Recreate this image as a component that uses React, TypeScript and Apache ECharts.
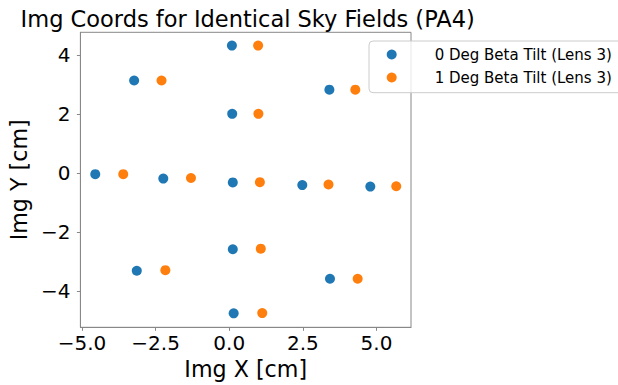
import React, { useEffect, useRef } from "react";
import * as echarts from "echarts";

const seriesNames = ["0 Deg Beta Tilt (Lens 3)", "1 Deg Beta Tilt (Lens 3)"];
const blueX = [0.09, -3.23, 3.40, 0.10, -4.55, -2.24, 0.12, 2.48, 4.79, 0.12, -3.14, 3.42, 0.15];
const blueY = [4.31, 3.13, 2.82, 2.00, -0.04, -0.19, -0.32, -0.41, -0.46, -2.58, -3.31, -3.58, -4.75];
const orangeX = [0.98, -2.30, 4.28, 0.99, -3.60, -1.30, 1.04, 3.37, 5.67, 1.07, -2.17, 4.36, 1.12];
const orangeY = [4.31, 3.13, 2.82, 2.00, -0.04, -0.17, -0.31, -0.39, -0.45, -2.56, -3.29, -3.58, -4.74];
const xTicks = [-5, -2.5, 0, 2.5, 5];
const yTicks = [-4, -2, 0, 2, 4];

const FONT = "DejaVu Sans";
const fmt = (v: number, d: number) => (v < 0 ? "\u2212" : "") + Math.abs(v).toFixed(d);

export default function App() {
  const ref = useRef<HTMLDivElement>(null);
  useEffect(() => {
    const chart = echarts.init(ref.current!, null, { renderer: "svg" });
    const pair = (xs: number[], ys: number[]) => xs.map((x, i) => [x, ys[i]]);
    const axisCommon = {
      type: "value",
      splitLine: { show: false },
      axisLine: { show: true, onZero: false, lineStyle: { color: "#888", width: 1 } },
      nameTextStyle: { fontFamily: FONT, fontSize: 22.2, color: "#000" },
    };
    chart.setOption({
      animation: false,
      backgroundColor: "#fff",
      title: {
        text: "Img Coords for Identical Sky Fields (PA4)",
        left: 20.6,
        top: 7,
        padding: 0,
        textStyle: { fontFamily: FONT, fontSize: 22.5, fontWeight: "normal", color: "#000" },
      },
      grid: {
        left: 75,
        right: 207,
        top: 32.3,
        bottom: 54.5,
        show: true,
        borderColor: "#888",
        borderWidth: 1,
        backgroundColor: "transparent",
      },
      legend: {
        orient: "vertical",
        left: 386.7,
        top: 47,
        padding: 0,
        itemWidth: 10,
        itemHeight: 10,
        itemGap: 8,
        icon: "circle",
        data: seriesNames,
        textStyle: {
          fontFamily: FONT,
          fontSize: 15,
          color: "#000",
          padding: [0, 0, 0, 33],
        },
      },
      graphic: [
        {
          type: "rect",
          z: 3,
          shape: { x: 369, y: 41, width: 260, height: 51.7, r: 4 },
          style: { fill: "rgba(255,255,255,0.8)", stroke: "#ccc", lineWidth: 1 },
        },
      ],
      xAxis: {
        ...axisCommon,
        min: -5.055,
        max: 6.171,
        name: "Img X [cm]",
        nameLocation: "middle",
        nameGap: 19.4,
        axisTick: { show: true, length: 3.5, lineStyle: { color: "#888" }, customValues: xTicks },
        axisLabel: {
          customValues: xTicks,
          margin: 5.8,
          fontFamily: FONT,
          fontSize: 20,
          color: "#000",
          formatter: (v: number) => fmt(v, 1),
        },
      },
      yAxis: {
        ...axisCommon,
        min: -5.222,
        max: 4.76,
        name: "Img Y [cm]",
        nameLocation: "middle",
        nameRotate: 90,
        nameGap: 38,
        axisTick: { show: true, length: 3.5, lineStyle: { color: "#888" }, customValues: yTicks },
        axisLabel: {
          customValues: yTicks,
          margin: 10,
          fontFamily: FONT,
          fontSize: 20,
          color: "#000",
          formatter: (v: number) => fmt(v, 0),
        },
      },
      series: [
        {
          name: seriesNames[0],
          type: "scatter",
          symbolSize: 10,
          itemStyle: { color: "#1f77b4", opacity: 1 },
          data: pair(blueX, blueY),
        },
        {
          name: seriesNames[1],
          type: "scatter",
          symbolSize: 10,
          itemStyle: { color: "#ff7f0e", opacity: 1 },
          data: pair(orangeX, orangeY),
        },
      ],
    });
    return () => chart.dispose();
  }, []);
  return (
    <div
      ref={ref}
      style={{ position: "fixed", left: 0, top: 0, width: 618, height: 385 }}
    />
  );
}
